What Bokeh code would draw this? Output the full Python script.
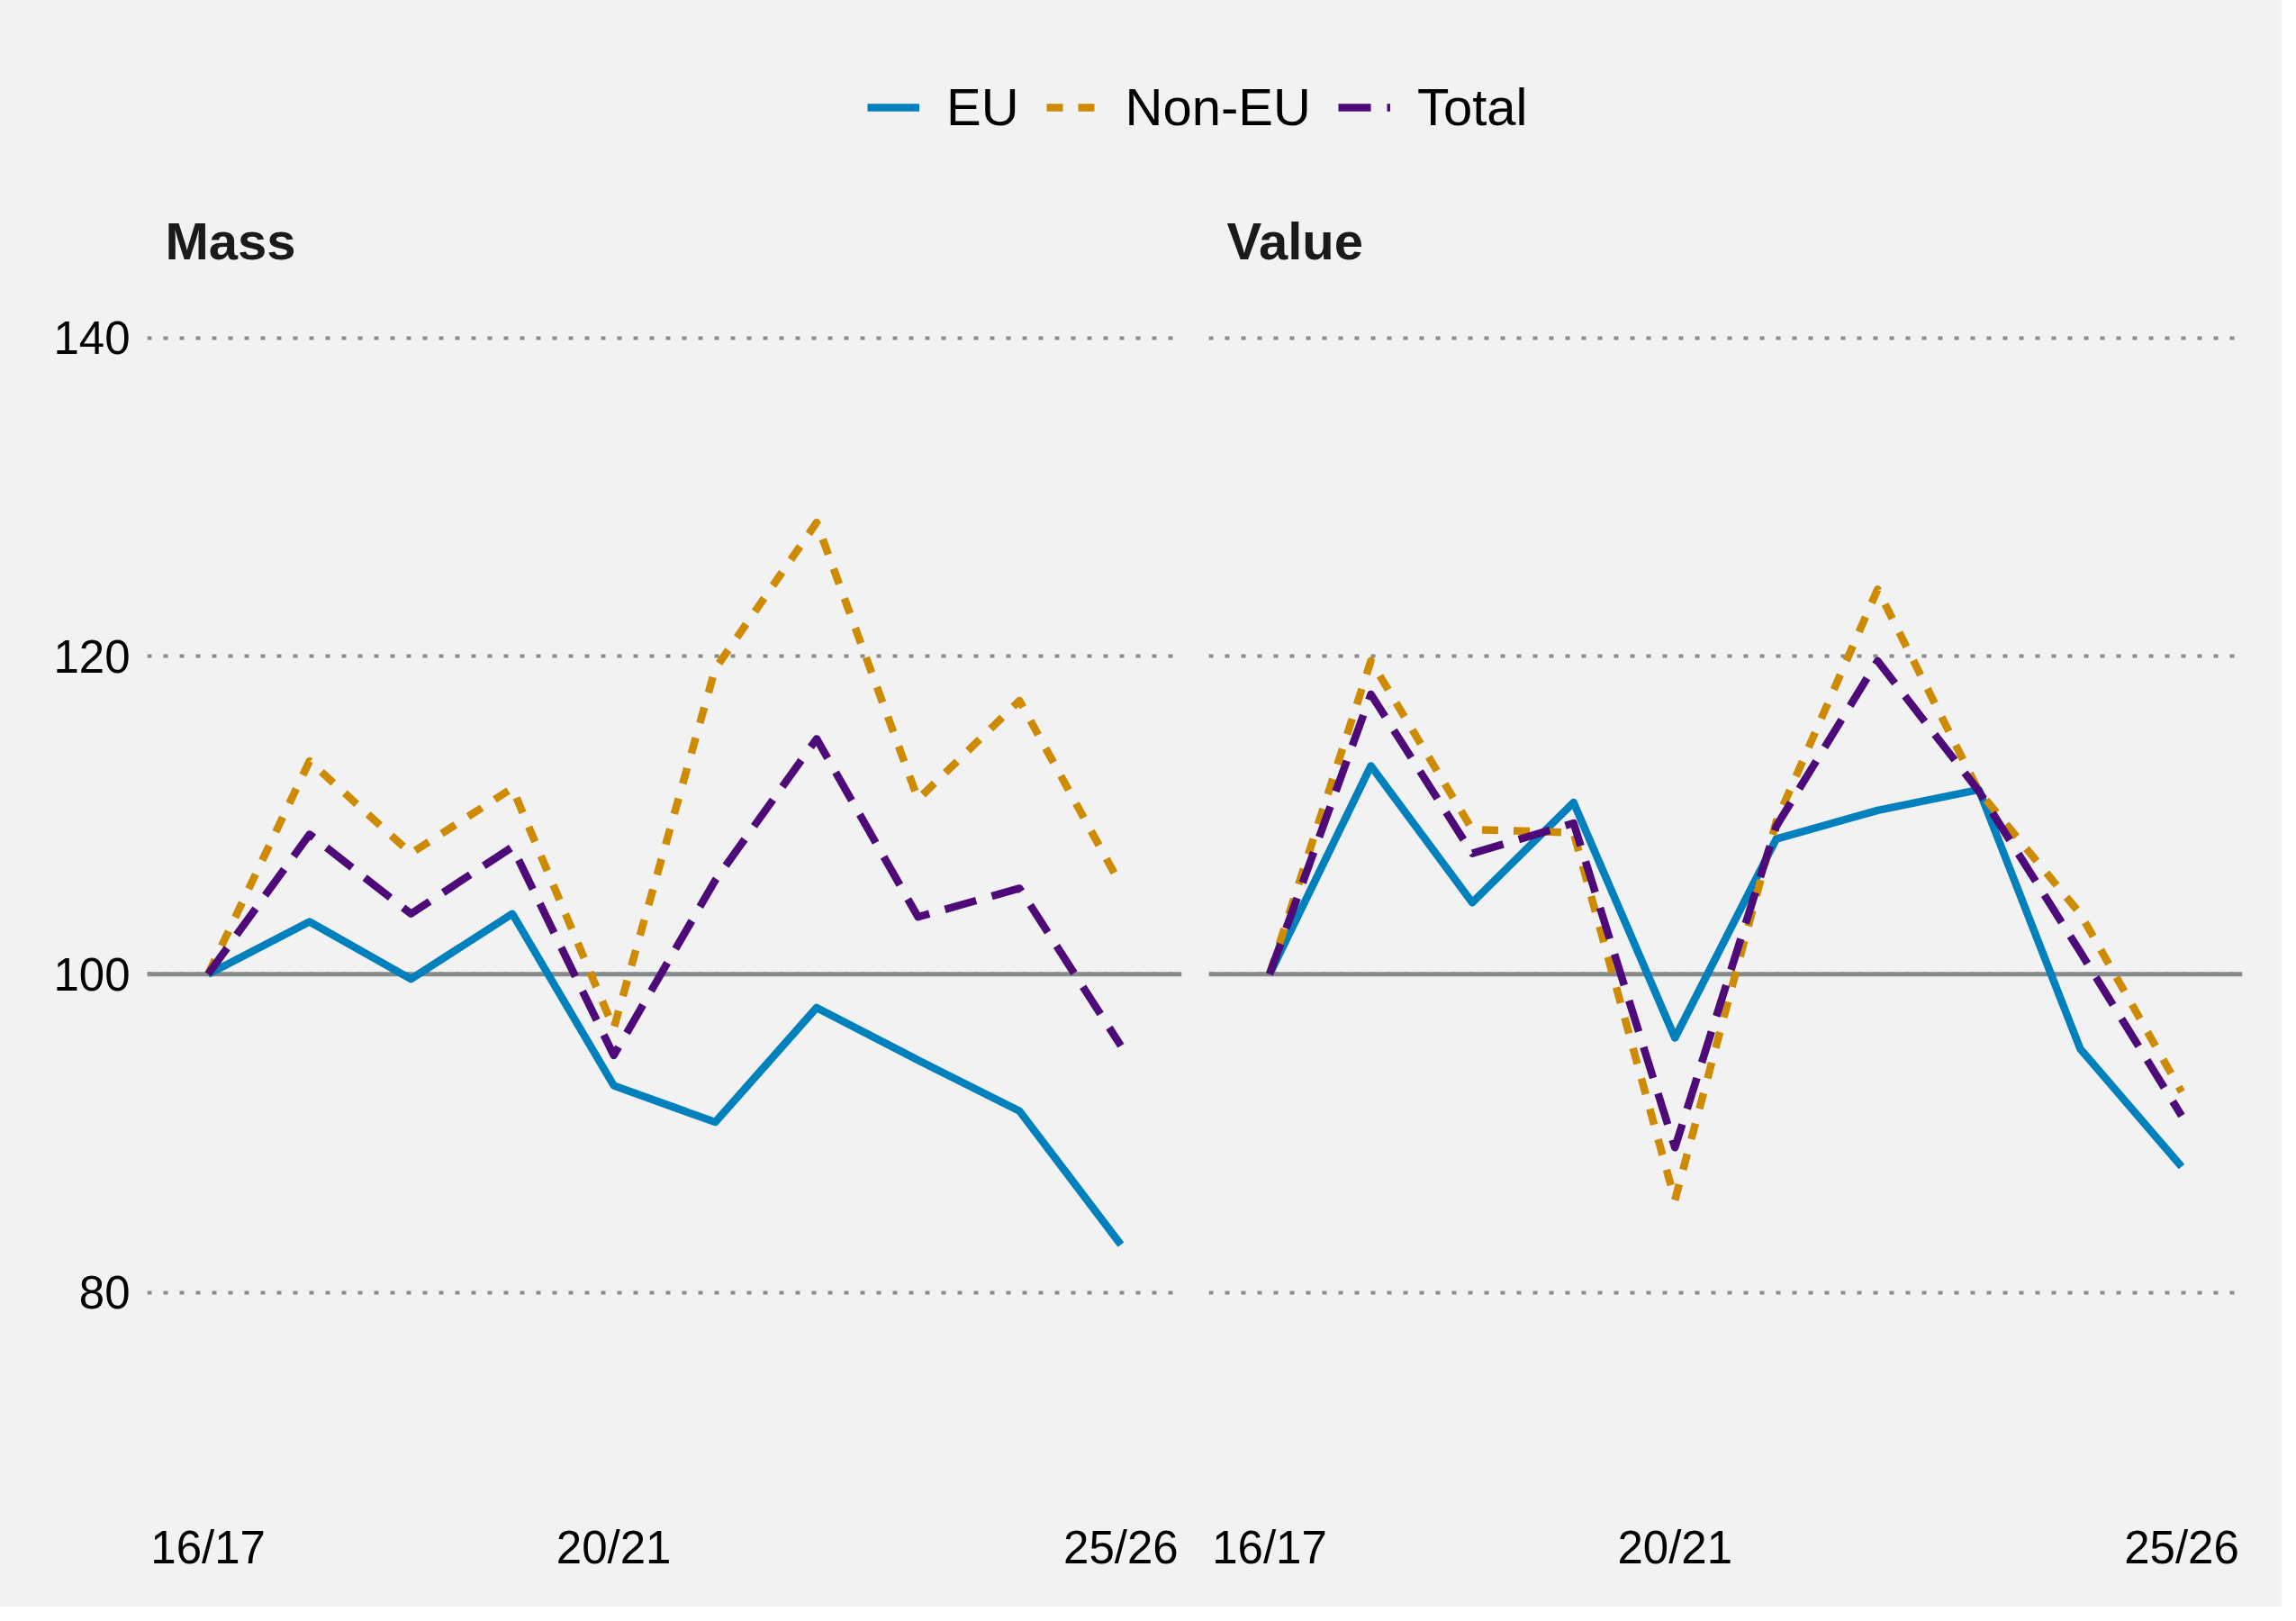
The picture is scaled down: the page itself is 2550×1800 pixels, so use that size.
from bokeh.plotting import figure
from bokeh.layouts import column, row
from bokeh.models import Range1d, FixedTicker, Span, Legend, LegendItem
from bokeh.embed import file_html
from bokeh.resources import INLINE

# ---------------- data ----------------
years = ["16/17", "17/18", "18/19", "19/20", "20/21",
         "21/22", "22/23", "23/24", "24/25", "25/26"]
tick_years = ["16/17", "20/21", "25/26"]
y_ticks = [80, 100, 120, 140]
baseline = 100

series_names = ["EU", "Non-EU", "Total"]

mass_eu = [100, 103.3, 99.7, 103.8, 93.0, 90.7, 97.9, 94.6, 91.4, 83.0]
mass_non_eu = [100, 113.4, 107.6, 111.7, 96.6, 119.2, 128.4, 111.0, 117.2, 105.6]
mass_total = [100, 108.8, 103.8, 108.0, 94.9, 105.9, 114.8, 103.6, 105.4, 95.5]

value_eu = [100, 113.1, 104.5, 110.8, 96.0, 108.5, 110.3, 111.6, 95.3, 87.9]
value_non_eu = [100, 119.7, 109.1, 108.9, 85.8, 109.6, 124.2, 111.5, 103.8, 92.6]
value_total = [100, 117.6, 107.6, 109.5, 89.1, 109.3, 119.7, 111.5, 101.4, 91.1]

panels = [
    ("Mass", {"EU": mass_eu, "Non-EU": mass_non_eu, "Total": mass_total}),
    ("Value", {"EU": value_eu, "Non-EU": value_non_eu, "Total": value_total}),
]

# ---------------- style ----------------
BG = "#f2f2f2"
FONT = "Liberation Sans"
colors = {"EU": "#0080BC", "Non-EU": "#CE8A00", "Total": "#4E0A78"}
dashes = {"EU": "solid", "Non-EU": "18 17", "Total": "36 18"}
LW = 8.5

xs = list(range(len(years)))
tick_pos = [years.index(t) for t in tick_years]

LEG_H = 208
PANEL_H = 1576


def make_panel(title, data, width, left, right, show_y):
    p = figure(width=width, height=PANEL_H,
               x_range=Range1d(-0.6, len(years) - 1 + 0.6),
               y_range=Range1d(66.5, 143.5),
               output_backend="svg", toolbar_location=None,
               min_border_left=left, min_border_right=right,
               min_border_top=105, min_border_bottom=111)
    p.background_fill_color = BG
    p.border_fill_color = BG
    p.outline_line_color = None

    p.title.text = title
    p.title.text_font = FONT
    p.title.text_font_size = "58px"
    p.title.text_font_style = "bold"
    p.title.text_color = "#1a1a1a"
    p.title.align = "left"
    p.title.offset = 20
    p.title.standoff = 28

    # x axis
    p.xaxis.ticker = FixedTicker(ticks=tick_pos)
    p.xaxis.major_label_overrides = {pos: lab for pos, lab in zip(tick_pos, tick_years)}
    p.xaxis.minor_tick_line_color = None
    p.xaxis.major_tick_line_color = None
    p.xaxis.major_tick_out = 0
    p.xaxis.major_tick_in = 0
    p.xaxis.axis_line_color = None
    p.xaxis.major_label_text_font = FONT
    p.xaxis.major_label_text_font_size = "51px"
    p.xaxis.major_label_text_color = "#000000"
    p.xaxis.major_label_standoff = 16

    # y axis
    p.yaxis.ticker = FixedTicker(ticks=y_ticks)
    p.yaxis.minor_tick_line_color = None
    p.yaxis.major_tick_line_color = None
    p.yaxis.major_tick_out = 0
    p.yaxis.major_tick_in = 0
    p.yaxis.axis_line_color = None
    p.yaxis.major_label_text_font = FONT
    p.yaxis.major_label_text_font_size = "51px"
    p.yaxis.major_label_text_color = "#000000"
    p.yaxis.major_label_standoff = 19
    if not show_y:
        p.yaxis.visible = False

    p.xgrid.visible = False
    p.ygrid.ticker = FixedTicker(ticks=y_ticks)
    p.ygrid.grid_line_color = "#8a8a8a"
    p.ygrid.grid_line_width = 4
    p.ygrid.grid_line_dash = "5 13"

    span = Span(location=baseline, dimension="width", line_color="#888b8d",
                line_width=5, level="underlay")
    p.add_layout(span)

    for name in series_names:
        p.line(xs, data[name], line_color=colors[name], line_width=LW,
               line_dash=dashes[name], line_join="round")
    return p


p1 = make_panel(panels[0][0], panels[0][1], 1327, 163, 15, True)
p2 = make_panel(panels[1][0], panels[1][1], 1207, 15, 44, False)

# legend strip (its key lines reuse the series, kept out of view)
leg = figure(width=2534, height=LEG_H, output_backend="svg", toolbar_location=None,
             x_range=Range1d(-3, -2), y_range=Range1d(-3, -2),
             x_axis_location=None, y_axis_location=None, min_border=0)
leg.background_fill_color = BG
leg.border_fill_color = BG
leg.outline_line_color = None
leg.grid.visible = False

items = []
for name in series_names:
    r = leg.line(xs, panels[0][1][name], line_color=colors[name], line_width=LW,
                 line_dash=dashes[name])
    items.append(LegendItem(label=name, renderers=[r]))

legend = Legend(items=items, orientation="horizontal", location=(963, 56),
                glyph_width=58, glyph_height=60, label_standoff=30, spacing=30,
                padding=0, margin=0, border_line_color=None,
                background_fill_alpha=0,
                label_text_font=FONT, label_text_font_size="58px",
                label_text_color="#000000")
leg.add_layout(legend, "center")

layout = column(leg, row(p1, p2))
layout.background = BG

open("out.html", "w").write(file_html(layout, INLINE))
